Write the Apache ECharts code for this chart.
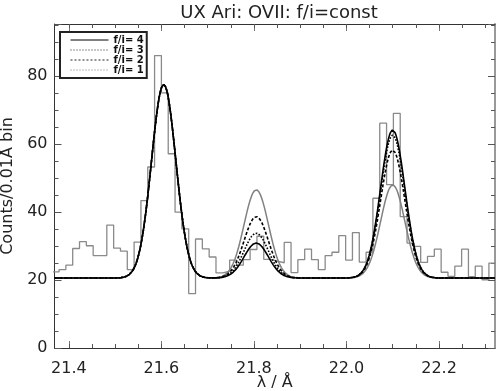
<!DOCTYPE html>
<html>
<head>
<meta charset="utf-8">
<script src="https://cdn.jsdelivr.net/npm/echarts@6/dist/echarts.min.js"></script>
<style>
    html, body { margin: 0; padding: 0; background: #fff; }
    #chart { width: 496px; height: 391px; }
</style>
</head>
<body>
<div id="chart"></div>
<script>
    // observed spectrum (histogram), counts per bin
    const binStart = 21.3641;   // left edge of first bin, Å
    const binWidth = 0.014746;
    const counts = [
        22.4, 23.1, 24.4, 29.3, 31.3, 30.1, 27.2, 27.2, 36.2, 29.4,
        28.5, 23.1, 31.2, 43.4, 53.3, 86.1, 75.1, 57.2, 40.0, 35.1,
        16.0, 32.1, 29.2, 26.8, 22.1, 22.6, 25.9, 24.4, 26.0, 29.0,
        32.9, 26.1, 25.6, 25.1, 31.1, 22.2, 26.0, 29.1, 26.0, 23.1,
        27.2, 28.2, 33.1, 25.9, 34.0, 25.3, 28.2, 44.1, 66.2, 48.1,
        69.1, 38.7, 30.9, 29.9, 25.2, 27.0, 29.1, 22.3, 21.1, 24.1,
        29.1, 21.0, 24.1, 20.1, 25.0
    ];

    // model fits for fixed f/i ratios: r, i, f lines on a flat continuum
    const ratios = [4, 3, 2, 1];
    const lineCenters = [21.605, 21.805, 22.100];
    const lineSigma = 0.0263;
    const continuum = 20.6;
    const rPeak = [77.6, 77.6, 77.6, 77.6];
    const iPeak = [30.9, 33.8, 38.7, 46.6];
    const fPeak = [64.2, 62.7, 58.3, 48.0];

    const xMin = 21.369;
    const xMax = 22.321;
    const xTicks = [21.4, 21.6, 21.8, 22.0, 22.2];
    const xMinorTicks = [21.40, 21.45, 21.50, 21.55, 21.60, 21.65, 21.70, 21.75, 21.80,
        21.85, 21.90, 21.95, 22.00, 22.05, 22.10, 22.15, 22.20, 22.25, 22.30];
    const yTicks = [0, 20, 40, 60, 80];

    const histData = counts.map((c, k) => [binStart + k * binWidth, c]);
    histData.push([binStart + counts.length * binWidth, counts[counts.length - 1]]);

    function model(j) {
        const peaks = [rPeak[j], iPeak[j], fPeak[j]];
        const pts = [];
        for (let x = xMin; x <= xMax + 1e-9; x += 0.002) {
            let y = continuum;
            for (let n = 0; n < 3; n++) {
                const d = (x - lineCenters[n]) / lineSigma;
                y += (peaks[n] - continuum) * Math.exp(-0.5 * d * d);
            }
            pts.push([x, y]);
        }
        return pts;
    }

    const styles = {
        4: { color: '#000', type: 'solid', width: 1.6 },
        3: { color: '#000', type: 'dotted', width: 1.6 },
        2: { color: '#000', type: [3, 2], width: 1.6 },
        1: { color: '#808080', type: 'solid', width: 1.5 }
    };
    // thin lines as drawn in the legend box
    const legendStyles = {
        4: { color: '#000', type: 'solid', width: 1 },
        3: { color: '#222', type: [1, 2], width: 1 },
        2: { color: '#222', type: [2, 2], width: 1 },
        1: { color: '#777', type: [1, 2], width: 1 }
    };

    const modelSeries = [];
    for (let j = ratios.length - 1; j >= 0; j--) {
        const r = ratios[j];
        modelSeries.push({
            name: 'f/i= ' + r,
            type: 'line',
            data: model(j),
            showSymbol: false,
            symbol: 'none',
            silent: true,
            lineStyle: styles[r],
            itemStyle: { color: styles[r].color },
            z: 3
        });
    }

    const font = 'DejaVu Sans';
    const axisColor = '#333';

    const chart = echarts.init(document.getElementById('chart'));
    chart.setOption({
        animation: false,
        backgroundColor: '#fff',
        title: {
            text: 'UX Ari: OVII: f/i=const',
            left: 274,
            textAlign: 'center',
            top: -1,
            textStyle: { fontFamily: font, fontSize: 18, fontWeight: 'normal', color: '#222' }
        },
        legend: {
            data: ratios.map(r => ({
                name: 'f/i= ' + r,
                lineStyle: legendStyles[r],
                itemStyle: { opacity: 0 }
            })),
            orient: 'vertical',
            left: 60,
            top: 32,
            padding: [3, 3, 3, 10],
            itemWidth: 38,
            itemHeight: 10,
            itemGap: 0,
            selectedMode: false,
            borderColor: '#222',
            borderWidth: 2,
            backgroundColor: '#fff',
            textStyle: { fontFamily: font, fontSize: 10, fontWeight: 'bold', color: '#111', lineHeight: 10 }
        },
        grid: { left: 54.5, right: 1, top: 24, bottom: 43, outerBoundsMode: 'none' },
        xAxis: [
            {
                type: 'value', min: xMin, max: xMax, position: 'bottom',
                axisLine: { onZero: false, lineStyle: { color: axisColor } },
                axisTick: { customValues: xTicks, inside: true, length: 7, lineStyle: { color: '#777' } },
                axisLabel: {
                    customValues: xTicks, formatter: v => v.toFixed(1), margin: 13,
                    fontFamily: font, fontSize: 16, color: '#222'
                },
                splitLine: { show: false },
                name: 'λ / Å', nameLocation: 'middle', nameGap: 27, nameMoveOverlap: false,
                nameTextStyle: { fontFamily: font, fontSize: 16, color: '#222' }
            },
            {
                type: 'value', min: xMin, max: xMax, position: 'bottom',
                axisLine: { show: false, onZero: false },
                axisTick: { customValues: xMinorTicks, inside: true, length: 4, lineStyle: { color: '#555' } },
                axisLabel: { show: false },
                splitLine: { show: false }
            },
            {
                type: 'value', min: xMin, max: xMax, position: 'top',
                axisLine: { onZero: false, lineStyle: { color: axisColor } },
                axisTick: { customValues: xTicks, inside: true, length: 7, lineStyle: { color: '#777' } },
                axisLabel: { show: false },
                splitLine: { show: false }
            },
            {
                type: 'value', min: xMin, max: xMax, position: 'top',
                axisLine: { show: false, onZero: false },
                axisTick: { customValues: xMinorTicks, inside: true, length: 4, lineStyle: { color: '#555' } },
                axisLabel: { show: false },
                splitLine: { show: false }
            }
        ],
        yAxis: [
            {
                type: 'value', min: 0, max: 95.4, interval: 20, position: 'left',
                axisLine: { show: true, onZero: false, lineStyle: { color: axisColor } },
                axisTick: { show: true, inside: true, length: 7, lineStyle: { color: '#555' } },
                minorTick: { show: true, splitNumber: 4, length: 4, lineStyle: { color: '#555' } },
                axisLabel: {
                    customValues: yTicks, margin: 7,
                    fontFamily: font, fontSize: 16, color: '#222'
                },
                splitLine: { show: false },
                name: 'Counts/0.01Å bin', nameLocation: 'middle', nameGap: 37,
                nameTextStyle: { fontFamily: font, fontSize: 16, color: '#222' }
            },
            {
                type: 'value', min: 0, max: 95.4, interval: 20, position: 'right',
                axisLine: { show: true, onZero: false, lineStyle: { color: '#999', width: 2 } },
                axisTick: { show: true, inside: true, length: 7, lineStyle: { color: '#555' } },
                minorTick: { show: true, splitNumber: 4, length: 4, lineStyle: { color: '#555' } },
                axisLabel: { show: false },
                splitLine: { show: false }
            }
        ],
        series: [
            {
                name: 'data',
                type: 'line',
                step: 'end',
                data: histData,
                showSymbol: false,
                symbol: 'none',
                silent: true,
                lineStyle: { color: '#8a8a8a', width: 1.3 },
                z: 1
            }
        ].concat(modelSeries)
    });
</script>
</body>
</html>
